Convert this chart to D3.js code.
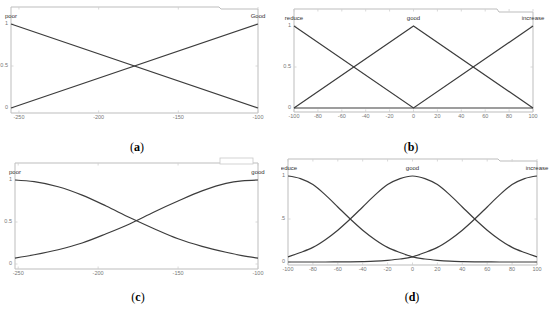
<!DOCTYPE html>
<html>
<head>
<meta charset="utf-8">
<script src="https://cdn.jsdelivr.net/npm/d3@7"></script>
<style>
  body { margin: 0; background: #fff; }
  text { font-family: "Liberation Sans", Arial, sans-serif; }
</style>
</head>
<body>
<svg id="fig" width="550" height="313"></svg>
<script>
// (a) linear membership functions
const aX = [-255, -100];
const aPoor = [1, 0];
const aGood = [0, 1];
const aTicks = [-250, -200, -150, -100];

// (b) triangular membership functions
const bX = [-100, 0, 100];
const bReduce = [1, 0, 0];
const bGood = [0, 1, 0];
const bIncrease = [0, 0, 1];
const bTicks = [-100, -80, -60, -40, -20, 0, 20, 40, 60, 80, 100];

// (c) gaussian-like
const cX = [-252, -240, -225, -210, -195, -180, -165, -150, -135, -120, -110, -100];
const cPoor = [1, 0.98, 0.92, 0.82, 0.69, 0.55, 0.42, 0.30, 0.21, 0.14, 0.10, 0.07];
const cGood = [0.07, 0.11, 0.17, 0.25, 0.36, 0.48, 0.62, 0.75, 0.87, 0.96, 0.99, 1];
const cTicks = [-250, -200, -150, -100];

// (d) gaussian-like, three sets
const dX = [-100, -90, -80, -70, -60, -50, -40, -30, -20, -10, 0, 10, 20, 30, 40, 50, 60, 70, 80, 90, 100];
const dReduce = [1, 0.97, 0.9, 0.78, 0.64, 0.5, 0.37, 0.26, 0.17, 0.11, 0.06, 0.035, 0.02, 0.01, 0.005, 0.002, 0.001, 0, 0, 0, 0];
const dGood = [0.06, 0.11, 0.17, 0.26, 0.37, 0.5, 0.64, 0.78, 0.9, 0.97, 1, 0.97, 0.9, 0.78, 0.64, 0.5, 0.37, 0.26, 0.17, 0.11, 0.06];
const dIncrease = [0, 0, 0, 0, 0.001, 0.002, 0.005, 0.01, 0.02, 0.035, 0.06, 0.11, 0.17, 0.26, 0.37, 0.5, 0.64, 0.78, 0.9, 0.97, 1];
const dTicks = [-100, -80, -60, -40, -20, 0, 20, 40, 60, 80, 100];

const yTicks = [0, 0.5, 1];
const yTickLabels = ["0", "0.5", "1"];

const panels = [
  { cap: "a", xs: aX, sets: [["poor", aPoor], ["Good", aGood]], ticks: aTicks, curve: d3.curveLinear,
    dom: [-255, -100], x0: 11, x1: 258, top: 7, bottom: 113, y1: 24, y0: 108,
    step: [219, 9], clip: [0, 0, 270, 150], capX: 137, capY: 151 },
  { cap: "b", xs: bX, sets: [["reduce", bReduce], ["good", bGood], ["increase", bIncrease]], ticks: bTicks, curve: d3.curveLinear,
    dom: [-100, 100], x0: 294, x1: 533, top: 9, bottom: 112, y1: 26, y0: 108,
    step: [497, 12], clip: [280, 0, 270, 150], capX: 411, capY: 151 },
  { cap: "c", xs: cX, sets: [["poor", cPoor], ["good", cGood]], ticks: cTicks, curve: d3.curveMonotoneX,
    dom: [-252, -100], x0: 15, x1: 258, top: 163, bottom: 269, y1: 180, y0: 264,
    step: null, box: [220, 158, 33, 6], clip: [0, 155, 270, 158], capX: 138, capY: 301 },
  { cap: "d", xs: dX, sets: [["reduce", dReduce], ["good", dGood], ["increase", dIncrease]], ticks: dTicks, curve: d3.curveMonotoneX,
    dom: [-100, 100], x0: 288, x1: 537, top: 159, bottom: 265, y1: 176, y0: 262,
    step: [498, 161], clip: [281, 150, 269, 163], capX: 412, capY: 301 }
];

const svg = d3.select("#fig");
const defs = svg.append("defs");

panels.forEach((p, i) => {
  defs.append("clipPath").attr("id", "clip" + i)
    .append("rect")
    .attr("x", p.clip[0]).attr("y", p.clip[1])
    .attr("width", p.clip[2]).attr("height", p.clip[3]);

  const g = svg.append("g").attr("clip-path", "url(#clip" + i + ")");

  const x = d3.scaleLinear().domain(p.dom).range([p.x0, p.x1]);
  const y = d3.scaleLinear().domain([0, 1]).range([p.y0, p.y1]);

  // frame (matlab style, with the little step in the top border)
  let fr;
  if (p.step) {
    fr = `M${p.x0},${p.top}H${p.step[0]}L${p.step[0] + 2},${p.step[1]}H${p.x1}V${p.bottom}H${p.x0}Z`;
  } else {
    fr = `M${p.x0},${p.top}H${p.x1}V${p.bottom}H${p.x0}Z`;
  }
  g.append("path").attr("d", fr)
    .attr("fill", "none").attr("stroke", "#bdbdbd").attr("stroke-width", 1);

  if (p.box) {
    g.append("rect").attr("x", p.box[0]).attr("y", p.box[1])
      .attr("width", p.box[2]).attr("height", p.box[3])
      .attr("fill", "#fff").attr("stroke", "#c8c8c8").attr("stroke-width", 0.8);
  }

  // tick marks
  const tk = g.append("g").attr("stroke", "#cfcfcf").attr("stroke-width", 0.8);
  p.ticks.forEach(t => {
    tk.append("line").attr("x1", x(t)).attr("x2", x(t)).attr("y1", p.bottom).attr("y2", p.bottom - 2.5);
    tk.append("line").attr("x1", x(t)).attr("x2", x(t)).attr("y1", p.top).attr("y2", p.top + 2.5);
  });
  yTicks.forEach(t => {
    tk.append("line").attr("x1", p.x0).attr("x2", p.x0 + 2.5).attr("y1", y(t)).attr("y2", y(t));
    tk.append("line").attr("x1", p.x1).attr("x2", p.x1 - 2.5).attr("y1", y(t)).attr("y2", y(t));
  });

  // tick labels
  g.append("g").selectAll("text")
    .data(p.ticks)
    .join("text")
    .attr("x", d => x(d))
    .attr("y", p.bottom + 5)
    .attr("text-anchor", "middle")
    .attr("dominant-baseline", "middle")
    .attr("font-size", 5.5)
    .attr("fill", "#777")
    .text(d => d);

  g.append("g").selectAll("text")
    .data(yTicks)
    .join("text")
    .attr("x", p.x0 - 3)
    .attr("y", d => y(d))
    .attr("text-anchor", "end")
    .attr("dominant-baseline", "middle")
    .attr("font-size", 5.5)
    .attr("fill", "#777")
    .text((d, j) => yTickLabels[j]);

  // membership curves
  const line = d3.line()
    .x((d, j) => x(p.xs[j]))
    .y(d => y(d))
    .curve(p.curve);

  p.sets.forEach(s => {
    g.append("path")
      .attr("d", line(s[1]))
      .attr("fill", "none")
      .attr("stroke", "#3c3c3c")
      .attr("stroke-width", 1.2);

    const peak = p.xs[d3.maxIndex(s[1])];
    g.append("text")
      .attr("x", x(peak))
      .attr("y", p.y1 - 8)
      .attr("text-anchor", "middle")
      .attr("dominant-baseline", "middle")
      .attr("font-size", 6)
      .attr("fill", "#333")
      .text(s[0]);
  });

  // caption
  const cap = svg.append("text")
    .attr("x", p.capX)
    .attr("y", p.capY)
    .attr("text-anchor", "middle")
    .attr("font-size", 12)
    .attr("fill", "#000")
    .style("font-family", "'Liberation Serif', 'Times New Roman', serif");
  cap.append("tspan").text("(");
  cap.append("tspan").attr("font-weight", "bold").text(p.cap);
  cap.append("tspan").text(")");
});
</script>
</body>
</html>
